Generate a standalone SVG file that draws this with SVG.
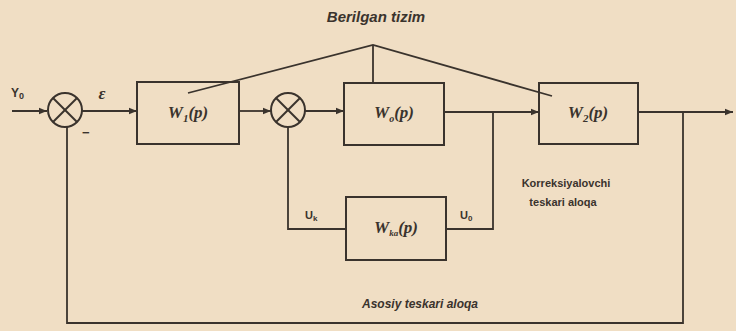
<svg xmlns="http://www.w3.org/2000/svg" width="736" height="331" viewBox="0 0 736 331">
<defs>
<marker id="arr" viewBox="0 0 10 10" refX="10" refY="5" markerWidth="8" markerHeight="8" markerUnits="userSpaceOnUse" orient="auto">
<path d="M0,1 L10,5 L0,9 z" fill="#3a332d"/>
</marker>
<style>
.ln{fill:none;stroke:#3a332d;stroke-width:1.8}
.bx{fill:none;stroke:#3a332d;stroke-width:2}
.sj{fill:none;stroke:#3a332d;stroke-width:2}
.wl{font-family:"Liberation Serif",serif;font-style:italic;font-weight:bold;font-size:17px;fill:#3a332d;text-anchor:middle}
.lb{font-family:"Liberation Sans",Arial,sans-serif;font-weight:bold;fill:#3a332d}
.it{font-family:"Liberation Sans",Arial,sans-serif;font-style:italic;font-weight:bold;fill:#3a332d;text-anchor:middle}
</style>
</defs>
<rect width="736" height="331" fill="#f0dec4"/>
<text class="it" x="376" y="22" font-size="15">Berilgan tizim</text>
<g id="connectors">
<polyline class="ln" points="188,93 373,45 552,96"/>
<line class="ln" x1="373" y1="45" x2="373" y2="83"/>
<line class="ln" x1="12" y1="111" x2="47" y2="111" marker-end="url(#arr)"/>
<line class="ln" x1="82" y1="111" x2="137" y2="111" marker-end="url(#arr)"/>
<line class="ln" x1="239" y1="111" x2="271" y2="111" marker-end="url(#arr)"/>
<line class="ln" x1="305" y1="111" x2="344" y2="111" marker-end="url(#arr)"/>
<line class="ln" x1="444" y1="112" x2="539" y2="112" marker-end="url(#arr)"/>
<line class="ln" x1="638" y1="112" x2="733" y2="112" marker-end="url(#arr)"/>
<polyline class="ln" points="683,112 683,323 67,323 67,127"/>
<polyline class="ln" points="493,112 493,229 446,229"/>
<polyline class="ln" points="346,229 288,229 288,127"/>
</g>
<g id="sum1">
<circle class="sj" cx="65" cy="110" r="17"/>
<line class="sj" x1="53" y1="98" x2="77" y2="122"/>
<line class="sj" x1="77" y1="98" x2="53" y2="122"/>
</g>
<g id="sum2">
<circle class="sj" cx="288" cy="110" r="17"/>
<line class="sj" x1="276" y1="98" x2="300" y2="122"/>
<line class="sj" x1="300" y1="98" x2="276" y2="122"/>
</g>
<g id="W1">
<rect class="bx" x="137" y="82" width="102" height="62"/>
<text class="wl" x="188" y="118">W<tspan font-size="11" dy="4">1</tspan><tspan dy="-4">(p)</tspan></text>
</g>
<g id="Wo">
<rect class="bx" x="344" y="83" width="100" height="62"/>
<text class="wl" x="394" y="118" font-size="15">W<tspan font-size="10" dy="4">o</tspan><tspan dy="-4">(p)</tspan></text>
</g>
<g id="W2">
<rect class="bx" x="539" y="83" width="99" height="61"/>
<text class="wl" x="588" y="118">W<tspan font-size="11" dy="4">2</tspan><tspan dy="-4">(p)</tspan></text>
</g>
<g id="Wka">
<rect class="bx" x="346" y="197" width="100" height="63"/>
<text class="wl" x="396" y="233" font-size="14">W<tspan font-size="9" dy="3">ka</tspan><tspan dy="-3">(p)</tspan></text>
</g>
<g id="labels">
<text class="lb" x="11" y="97" font-size="12">Y<tspan font-size="9" dy="2">0</tspan></text>
<text class="wl" x="102" y="99" font-size="16">ε</text>
<text class="lb" x="82" y="137" font-size="13">−</text>
<text class="lb" x="305" y="219" font-size="11">U<tspan font-size="8" dy="2">k</tspan></text>
<text class="lb" x="460" y="219" font-size="11">U<tspan font-size="8" dy="2">0</tspan></text>
<text class="lb" x="566" y="187" font-size="11" text-anchor="middle">Korreksiyalovchi</text>
<text class="lb" x="563" y="206" font-size="11" text-anchor="middle">teskari aloqa</text>
<text class="it" x="420" y="308" font-size="12">Asosiy teskari aloqa</text>
</g>
</svg>
